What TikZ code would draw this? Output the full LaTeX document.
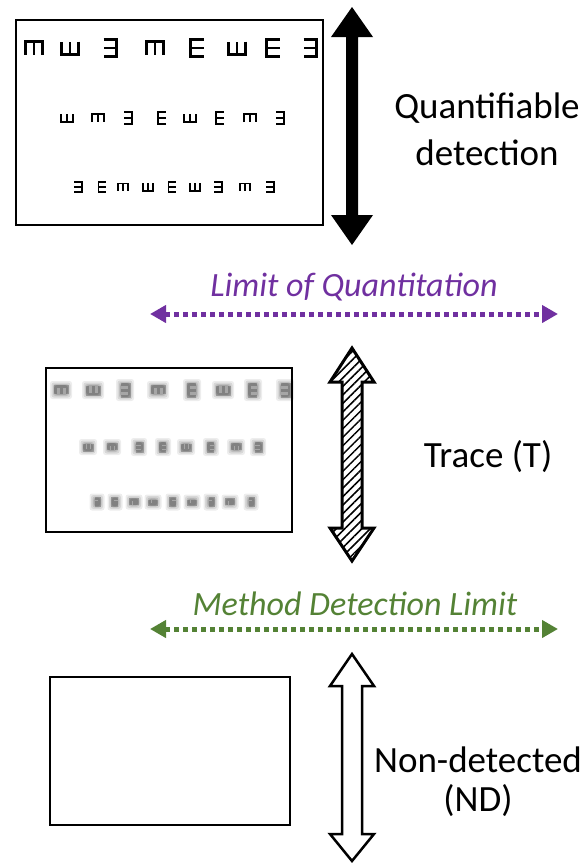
\documentclass[tikz,border=0pt]{standalone}
\usepackage{fontspec}
\setmainfont{Carlito}
\usetikzlibrary{patterns.meta,arrows.meta}
\definecolor{lqcol}{HTML}{7030A0}
\definecolor{mdlcol}{HTML}{548235}
% tumbling E: x, y, rotation, width, height (E opening right before rotation)
\newcommand\tumE[5]{\draw[shift={(#1,#2)},rotate=#3] (#4/2,#5/2)--(-#4/2,#5/2)--(-#4/2,-#5/2)--(#4/2,-#5/2) (-#4/2,0)--(#4/2,0);}
\newcommand\blurE[5]{%
  \begin{scope}[shift={(#1,#2)},rotate=#3]
  \foreach \g/\op in {5/0.07,3.5/0.09,2/0.11,0.8/0.13}{%
    \fill[black,opacity=\op,rounded corners=2.5pt] (-#4/2-\g,-#5/2-\g) rectangle (#4/2+\g,#5/2+\g);}
  \draw[line width=3pt,draw opacity=0.22,black] (#4/2,#5/2)--(-#4/2,#5/2)--(-#4/2,-#5/2)--(#4/2,-#5/2) (-#4/2,0)--(#4/2,0);
  \end{scope}}
\tikzset{
  chartbox/.style={draw=black,line width=2pt,fill=white,minimum width=#1,inner sep=0pt},
  bigtext/.style={font=\fontsize{37}{47}\selectfont,align=center,inner sep=0pt},
  limtext/.style={font=\fontsize{34}{40}\selectfont\itshape,inner sep=0pt},
  limline/.style={line width=5pt,dash pattern=on 5pt off 4pt,{Triangle[length=16pt,width=17pt]}-{Triangle[length=16pt,width=17pt]}},
}
\begin{document}
\begin{tikzpicture}[x=1pt,y=-1pt,line join=miter,miter limit=20]
\useasboundingbox (0,0) rectangle (588,865);
% chart boxes
\node[chartbox=307pt,minimum height=205pt] (box1) at (169.5,122.5) {};
\node[chartbox=246pt,minimum height=164pt] (box2) at (169,450) {};
\node[chartbox=240pt,minimum height=148pt] (box3) at (170,751) {};
% sharp chart
\begin{scope}[line width=2.1pt]
\foreach \x/\r in {34/270,70/90,110/180,155/270,197/0,237/90,273/0,310/180}{\tumE{\x}{48}{\r}{13}{17}}
\end{scope}
\begin{scope}[line width=1.7pt]
\foreach \x/\r in {67/90,98/270,128/180,162/0,190/90,220/0,250/270,280/180}{\tumE{\x}{118}{\r}{8}{12}}
\end{scope}
\begin{scope}[line width=1.5pt]
\foreach \x/\r in {78/180,102/0,123/270,148/90,172/0,195/90,218/180,245/270,270/180}{\tumE{\x}{187}{\r}{7.5}{10}}
\end{scope}
% blurred chart
\foreach \x/\r in {61/270,93/90,125/180,158/270,192/0,223/90,253/0,285/180}{\blurE{\x}{390}{\r}{8}{12}}
\foreach \x/\r in {88/90,112/270,139/180,163/0,186/90,211/0,236/270,258/180}{\blurE{\x}{447}{\r}{6}{8}}
\foreach \x/\r in {97/180,115/0,134/270,153/90,173/0,192/90,211/180,230/270,251/180}{\blurE{\x}{502}{\r}{5}{7}}
% block arrows
\fill[black] (352,7) -- (373,37) -- (358,37) -- (358,215) -- (373,215) -- (352,245) -- (331,215) -- (346,215) -- (346,37) -- (331,37) -- cycle;
\draw[line width=3pt,pattern={Lines[angle=45,distance=6pt,line width=1.5pt]}] (352,348) -- (374,382) -- (362,382) -- (362,528) -- (374,528) -- (352,561) -- (330,528) -- (342,528) -- (342,382) -- (330,382) -- cycle;
\draw[line width=2.5pt,fill=white] (352,654) -- (374,686) -- (362,686) -- (362,834) -- (374,834) -- (352,861) -- (330,834) -- (342,834) -- (342,686) -- (330,686) -- cycle;
% labels
\node[bigtext] (quant) at (487,129) {Quantifiable\\detection};
\node[bigtext] (trace) at (488,457) {Trace (T)};
\node[bigtext,font=\fontsize{37}{39}\selectfont] (nd) at (478,782) {Non-detected\\(ND)};
% limit lines
\coordinate (lqL) at (150,314);
\coordinate (lqR) at (558,314);
\draw[limline,lqcol] (lqL) -- (lqR);
\node[limtext,text=lqcol] (lq) at (354,287) {Limit of Quantitation};
\coordinate (mdlL) at (150,629);
\coordinate (mdlR) at (558,629);
\draw[limline,mdlcol] (mdlL) -- (mdlR);
\node[limtext,text=mdlcol] (mdl) at (355,604) {Method Detection Limit};
\end{tikzpicture}
\end{document}
